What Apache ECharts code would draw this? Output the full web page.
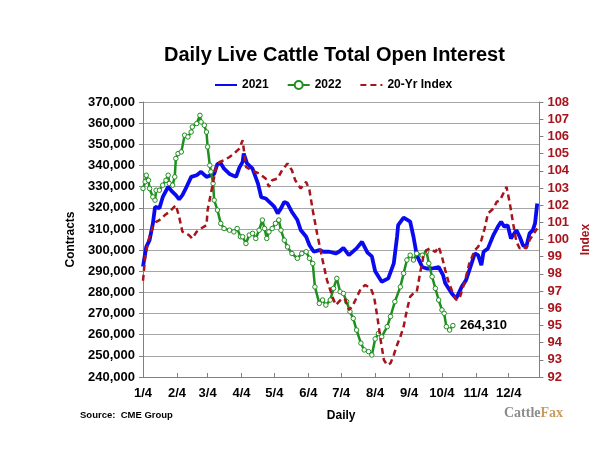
<!DOCTYPE html>
<html>
<head>
<meta charset="utf-8">
<script src="https://cdn.jsdelivr.net/npm/echarts@6/dist/echarts.min.js"></script>
<style>
  html, body { margin: 0; padding: 0; background: #fff; }
  #chart { width: 600px; height: 466px; }
</style>
</head>
<body>
<div id="chart"></div>
<script>
// x = days after 1/4
var monthDays = [0, 31, 59, 90, 120, 151, 181, 212, 243, 273, 304, 334];
var monthLabels = ['1/4', '2/4', '3/4', '4/4', '5/4', '6/4', '7/4', '8/4', '9/4', '10/4', '11/4', '12/4'];

var days2021 = [0, 3, 6, 9, 11, 15, 18, 23, 26, 30, 33, 36, 39, 44, 49, 53, 58, 62, 65, 68, 71, 74, 79, 85, 88, 91, 92, 95, 100, 105,
    108, 112, 117, 120, 123, 126, 129, 132, 136, 141, 144, 149, 152, 156, 161, 165, 170, 176, 179, 183, 188, 195, 200, 205, 209, 212,
    218, 224, 229, 232, 233, 238, 244, 247, 250, 255, 259, 264, 270, 274, 276, 280, 282, 286, 291, 295, 299, 303, 306, 309, 311, 315,
    320, 324, 327, 330, 333, 336, 341, 344, 347, 350, 353, 356, 358, 360];
var oi2021 = [292200, 301500, 304700, 312500, 320400, 319800, 325000, 330000, 328000, 326000, 324000, 326000, 329000, 334600, 335400,
    337000, 334600, 335400, 336000, 340800, 341000, 338500, 336000, 334600, 339000, 341700, 345600, 341000, 338500, 331400,
    325000, 324400, 322000, 320400, 317300, 319700, 322800, 322000, 318000, 314200, 309500, 306300, 302300, 299200, 300000, 299200,
    299200, 298400, 299200, 301000, 297600, 300800, 303900, 298800, 297000, 290000, 285000, 286600, 293700, 306300, 311800, 315300,
    313400, 306300, 297600, 292000, 291300, 291300, 292000, 288200, 284300, 281100, 279500, 277100, 282600, 285800, 292000, 298400,
    297600, 292900, 299200, 300800, 307100, 311000, 313400, 311000, 311800, 305500, 309400, 306300, 302300, 301500, 307900, 309400,
    312600, 322000];

var days2022 = [0, 2, 3, 5, 6, 9, 11, 12, 15, 18, 21, 23, 24, 27, 29, 30, 32, 35, 38, 41, 44, 45, 49, 52, 53, 56, 58, 59, 61, 62, 64,
    65, 68, 71, 74, 79, 83, 86, 89, 91, 94, 97, 100, 103, 106, 109, 111, 113, 115, 118, 121, 124, 126, 129, 132, 136, 141, 145, 149,
    152, 155, 157, 161, 164, 167, 171, 174, 177, 180, 183, 186, 189, 192, 195, 199, 202, 206, 209, 212, 215, 218, 223, 226, 230, 235,
    238, 241, 244, 247, 250, 255, 259, 261, 264, 267, 270, 273, 275, 277, 280, 283];
var oi2022 = [329100, 332300, 335400, 333000, 329100, 325100, 323600, 328300, 328300, 330700, 333000, 335400, 331500, 330700, 334600,
    343300, 345600, 346400, 354300, 353500, 355800, 358200, 359800, 363700, 360600, 359000, 355800, 348800, 340100, 337000, 331500,
    323600, 318900, 312600, 310200, 309400, 308600, 310200, 306300, 306300, 303100, 307100, 307900, 305500, 309400, 314200, 310200,
    305500, 308600, 310200, 312600, 314200, 309400, 304700, 301500, 298400, 296100, 298400, 299200, 296100, 293700, 282600, 274800,
    276400, 274000, 276400, 281900, 286600, 280300, 279500, 275600, 270900, 267700, 262200, 256000, 252800, 252000, 250400, 258000,
    260600, 259000, 263800, 268600, 275600, 282600, 289000, 295300, 297600, 295300, 298400, 297600, 299200, 293700, 287400, 281900,
    276400, 271700, 270100, 263800, 262200, 264310];

var daysIndex = [0, 2, 5, 9, 12, 15, 20, 24, 27, 30, 33, 36, 39, 42, 45, 49, 53, 58, 59, 62, 65, 67, 70, 74, 79, 83, 88, 91, 94, 99,
    106, 112, 115, 118, 123, 127, 132, 136, 139, 144, 149, 152, 155, 159, 164, 168, 173, 176, 182, 185, 188, 191, 194, 199, 203, 208,
    211, 214, 217, 220, 223, 226, 229, 232, 235, 238, 241, 244, 247, 250, 253, 256, 259, 262, 267, 270, 273, 276, 279, 283, 286, 289,
    292, 295, 298, 303, 306, 309, 312, 315, 320, 323, 326, 329, 332, 335, 338, 341, 344, 347, 350, 353, 356, 360];
var index20yr = [97.6, 99.0, 99.96, 100.74, 101.03, 101.13, 101.42, 101.6, 101.8, 102.0, 101.32, 100.45, 100.35, 100.26, 100.06,
    100.45, 100.64, 100.84, 101.71, 102.68, 103.64, 104.32, 104.51, 104.61, 104.8, 105.0, 105.29, 105.77, 104.22, 104.03,
    103.84, 103.55, 103.06, 103.45, 103.55, 104.03, 104.42, 104.03, 103.45, 102.97, 103.35, 102.87, 101.71, 100.35, 98.8, 97.64,
    96.67, 96.19, 96.58, 96.48, 95.9, 96.09, 96.48, 97.16, 97.35, 97.16, 96.67, 95.51, 94.15, 92.99, 92.7, 92.8, 93.28, 93.86,
    94.34, 94.93, 95.9, 96.67, 96.87, 96.96, 98.03, 99.0, 99.38, 99.48, 99.28, 99.57, 99.0, 98.22, 97.54, 96.87, 96.48, 96.58,
    97.16, 97.83, 98.61, 99.38, 99.57, 99.96, 100.64, 101.52, 101.8, 102.19, 102.29, 102.68, 103.06, 102.1, 100.93, 99.87, 99.48,
    99.57, 99.48, 99.96, 100.26, 100.64];

function zip(xs, ys) {
    var out = [];
    for (var i = 0; i < xs.length; i++) {
        out.push([xs[i], ys[i]]);
    }
    return out;
}

function commas(v) {
    return String(v).replace(/\B(?=(\d{3})+(?!\d))/g, ',');
}

var FONT = 'Liberation Sans';
var RED = '#a8141c';

var myChart = echarts.init(document.getElementById('chart'));
var option = {
    animation: false,
    backgroundColor: '#fff',
    textStyle: { fontFamily: FONT },
    grid: { left: 143, right: 58, top: 102, bottom: 89 },
    legend: {
        left: 209,
        top: 74,
        itemWidth: 22,
        itemHeight: 10,
        itemGap: 18,
        textStyle: { fontFamily: FONT, fontWeight: 'bold', fontSize: 12, color: '#000' },
        data: [
            { name: '2021', itemStyle: { opacity: 0 } },
            { name: '2022' },
            { name: '20-Yr Index', itemStyle: { opacity: 0 } }
        ]
    },
    xAxis: {
        type: 'value',
        min: 0,
        max: 362,
        name: 'Daily',
        nameLocation: 'middle',
        nameGap: 33,
        nameTextStyle: { fontFamily: FONT, fontWeight: 'bold', fontSize: 12, color: '#000' },
        splitLine: { show: false },
        axisLine: { show: true, onZero: false, lineStyle: { color: '#808080', width: 1 } },
        axisTick: { show: true, inside: true, length: 4, customValues: monthDays, lineStyle: { color: '#808080' } },
        axisLabel: {
            customValues: monthDays,
            margin: 10,
            fontFamily: FONT, fontWeight: 'bold', fontSize: 13, color: '#000',
            formatter: function (v) {
                var i = monthDays.indexOf(v);
                return i >= 0 ? monthLabels[i] : '';
            }
        }
    },
    yAxis: [
        {
            type: 'value',
            min: 240000,
            max: 370000,
            interval: 10000,
            name: 'Contracts',
            nameLocation: 'middle',
            nameRotate: 90,
            nameGap: 63,
            nameTextStyle: { fontFamily: FONT, fontWeight: 'bold', fontSize: 12, color: '#000' },
            axisLine: { show: true, lineStyle: { color: '#808080', width: 1 } },
            axisTick: { show: true, length: 4, lineStyle: { color: '#808080' } },
            splitLine: { show: true, lineStyle: { color: '#a6a6a6', width: 1 } },
            axisLabel: {
                margin: 8,
                fontFamily: FONT, fontWeight: 'bold', fontSize: 13, color: '#000',
                formatter: function (v) { return commas(v); }
            }
        },
        {
            type: 'value',
            position: 'right',
            min: 92,
            max: 108,
            interval: 1,
            name: 'Index',
            nameLocation: 'middle',
            nameRotate: 90,
            nameGap: 24,
            nameTextStyle: { fontFamily: FONT, fontWeight: 'bold', fontSize: 12, color: RED },
            axisLine: { show: true, lineStyle: { color: '#808080', width: 1 } },
            axisTick: { show: true, length: 4, lineStyle: { color: '#808080' } },
            splitLine: { show: false },
            axisLabel: {
                margin: 8,
                fontFamily: FONT, fontWeight: 'bold', fontSize: 13, color: RED
            }
        }
    ],
    graphic: [
        {
            type: 'text',
            left: 164,
            top: 45,
            style: {
                text: 'Daily Live Cattle Total Open Interest',
                font: 'bold 20px "Liberation Sans"',
                fill: '#000'
            }
        },
        {
            type: 'text',
            left: 80,
            top: 410,
            style: {
                text: 'Source:  CME Group',
                font: 'bold 9.5px "Liberation Sans"',
                fill: '#000'
            }
        },
        {
            type: 'text',
            left: 504,
            top: 406,
            style: {
                text: '{a|Cattle}{b|Fax}',
                rich: {
                    a: { fontFamily: 'Liberation Serif', fontWeight: 'bold', fontSize: 14, fill: '#8c8c8c', color: '#8c8c8c' },
                    b: { fontFamily: 'Liberation Serif', fontWeight: 'bold', fontSize: 14, fill: '#c99a62', color: '#c99a62' }
                }
            }
        }
    ],
    series: [
        {
            name: '2021',
            type: 'line',
            yAxisIndex: 0,
            symbol: 'none',
            color: '#0a0af0',
            lineStyle: { color: '#0a0af0', width: 3.8 },
            data: zip(days2021, oi2021),
            z: 3
        },
        {
            name: '2022',
            type: 'line',
            yAxisIndex: 0,
            symbol: 'circle',
            symbolSize: 4.5,
            showSymbol: true,
            color: '#1f8f1f',
            itemStyle: { color: '#ffffff', borderColor: '#1f8f1f', borderWidth: 1 },
            lineStyle: { color: '#1f8f1f', width: 2.5 },
            data: zip(days2022, oi2022),
            endLabel: {
                show: true,
                distance: 7,
                fontFamily: FONT, fontWeight: 'bold', fontSize: 13, color: '#000',
                formatter: function (p) { return commas(p.value[1]); }
            },
            z: 4
        },
        {
            name: '20-Yr Index',
            type: 'line',
            yAxisIndex: 1,
            symbol: 'none',
            color: RED,
            lineStyle: { color: RED, width: 2.5, type: [6, 4] },
            data: zip(daysIndex, index20yr),
            z: 5
        }
    ]
};
myChart.setOption(option);
</script>
</body>
</html>
